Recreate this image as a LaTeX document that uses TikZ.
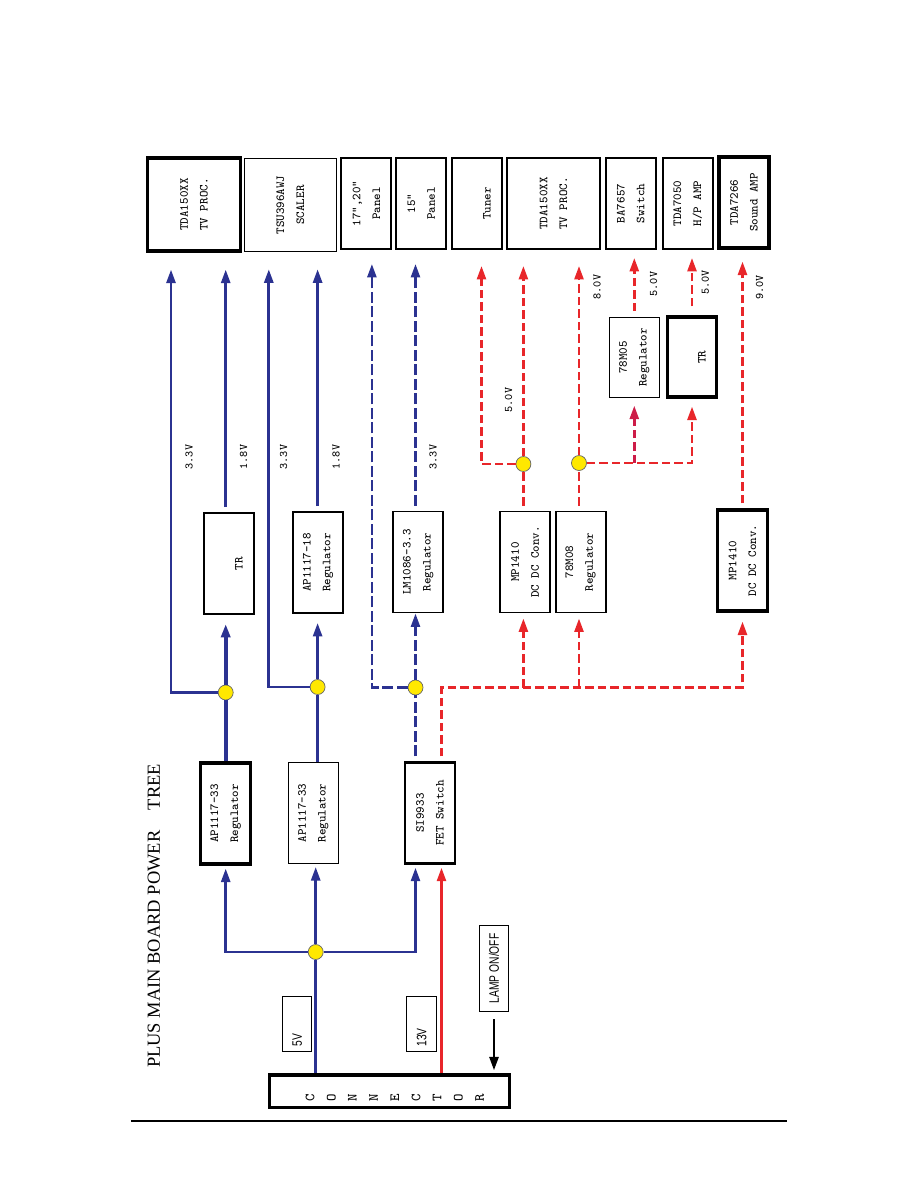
\documentclass[tikz,border=0pt]{standalone}
\usepackage{fontspec}
\usepackage{graphicx}
\usepackage{xcolor}
\usepackage{tikz}
\usetikzlibrary{arrows.meta}

\newfontfamily\titlefont{Liberation Serif}
\newfontfamily\narrowfont[FakeStretch=0.75]{Liberation Sans}
\definecolor{pwrblue}{RGB}{43,50,145}
\definecolor{pwrred}{RGB}{232,38,42}
\definecolor{pwrcrimson}{RGB}{205,28,72}
\definecolor{dotyellow}{RGB}{255,232,0}
\newcommand{\vchar}[1]{\makebox[0.424cm]{\rotatebox{90}{#1}}}

\begin{document}
\begin{tikzpicture}[x=0.02cm, y=-0.02cm,
    blockbox/.style={draw, rotate=90, align=center, inner sep=2pt, font=\ttfamily\fontsize{7}{11.3}\selectfont},
    thinbox/.style={blockbox, line width=0.6pt},
    midbox/.style={blockbox, line width=1.1pt},
    thickbox/.style={blockbox, line width=1.8pt},
    toprow/.style={minimum width=1.82cm, minimum height=1.0cm},
    midrow/.style={minimum width=2.02cm, minimum height=1.0cm},
    tag/.style={draw, rotate=90, line width=0.6pt, font=\narrowfont\fontsize{7.8}{9}\selectfont},
    vlabel/.style={rotate=90, inner sep=1pt, font=\ttfamily\fontsize{6.6}{8}\selectfont},
    junc/.style={circle, fill=dotyellow, draw=black!60, line width=0.4pt, minimum size=0.3cm, inner sep=0pt},
    powarrow/.style={-{Triangle[length=0.27cm, width=0.18cm]}},
    bline/.style={draw=pwrblue, line width=1.5pt},
    bthick/.style={draw=pwrblue, line width=2.1pt},
    bdash/.style={draw=pwrblue, line width=1.5pt, dash pattern=on 0.22cm off 0.07cm},
    rline/.style={draw=pwrred, line width=1.5pt},
    rdash/.style={draw=pwrred, line width=1.5pt, dash pattern=on 0.17cm off 0.08cm}]
  \useasboundingbox (0,0) rectangle (918,1188);

  % Title
  \node[rotate=90, font=\titlefont\fontsize{10.5}{12}\selectfont] (title) at (154,916) {PLUS MAIN BOARD POWER\hspace{9pt} TREE};

  % Loads
  \node[thickbox, minimum width=1.86cm, minimum height=1.85cm] (tvproc) at (194,204.5) {TDA150XX\\TV PROC.};
  \node[thinbox, minimum width=1.87cm, minimum height=1.83cm] (scaler) at (290.3,205) {TSU396AWJ\\SCALER};
  \node[midbox, toprow] (panelA) at (366.4,203.5) {17",20"\\Panel};
  \node[midbox, toprow] (panelB) at (421.2,203.5) {15"\\Panel};
  \node[midbox, toprow] (tuner) at (477,203.5) {\phantom{T}\\Tuner};
  \node[midbox, minimum width=1.82cm, minimum height=1.85cm] (tvproc2) at (553.5,203.5) {TDA150XX\\TV PROC.};
  \node[midbox, toprow] (switch) at (630.7,203.5) {BA7657\\Switch};
  \node[midbox, toprow] (hpamp) at (687.8,203.5) {TDA7050\\H/P AMP};
  \node[thickbox, toprow] (soundamp) at (744,202.5) {TDA7266\\Sound AMP};

  % Second stage
  \node[midbox, midrow] (tra) at (229,563.5) {\phantom{T}\\TR};
  \node[midbox, midrow] (reg18) at (318,562.5) {AP1117–18\\Regulator};
  \node[midbox, midrow] (ldo) at (418.2,562) {LM1086–3.3\\Regulator};
  \node[midbox, midrow] (dcdc) at (525.1,562) {MP1410\\DC DC Conv.};
  \node[midbox, midrow] (reg8) at (580.6,562) {78M08\\Regulator};
  \node[thickbox, midrow] (dcdcb) at (742.5,560.5) {MP1410\\DC DC Conv.};
  \node[thinbox, minimum width=1.59cm, minimum height=1.0cm] (reg5) at (634.3,357.4) {78M05\\Regulator};
  \node[thickbox, minimum width=1.6cm, minimum height=0.99cm] (trb) at (692,357) {\phantom{T}\\TR};

  % First stage
  \node[thickbox, midrow] (reg33a) at (225.7,813.5) {AP1117–33\\Regulator};
  \node[thinbox, midrow] (reg33b) at (313.3,813) {AP1117–33\\Regulator};
  \node[midbox, midrow, line width=1.4pt] (fet) at (430,813) {SI9933\\FET Switch};

  % Connector and inputs
  \node[draw, line width=1.8pt, minimum width=4.8cm, minimum height=0.65cm, inner sep=0pt, font=\ttfamily\fontsize{8}{9}\selectfont] (conn) at (389.3,1091.2)
    {\hspace*{0.22cm}\rule{0pt}{0.4cm}\vchar{C}\vchar{O}\vchar{N}\vchar{N}\vchar{E}\vchar{C}\vchar{T}\vchar{O}\vchar{R}};
  \node[tag, minimum width=1.11cm, minimum height=0.58cm, inner xsep=0.1cm, text width=0.91cm, align=left] (lbl5) at (297.2,1023.9) {5V};
  \node[tag, minimum width=1.11cm, minimum height=0.6cm, inner xsep=0.1cm, text width=0.91cm, align=left] (lbl13) at (421.7,1023.9) {13V};
  \node[tag, minimum width=1.73cm, minimum height=0.59cm] (lamp) at (494,968.3) {LAMP ON/OFF};

  % Junctions
  \node[junc] (ja) at (225.7,692.5) {};
  \node[junc] (jb) at (317.6,687) {};
  \node[junc] (jc) at (415.5,687.5) {};
  \node[junc] (jd) at (523.4,464) {};
  \node[junc] (je) at (579,463) {};
  \node[junc] (jf) at (315.7,952) {};
  \coordinate (fetin) at ([xshift=0.23cm]fet.west);
  \coordinate (fetout) at ([xshift=0.23cm]fet.east);

  % 5V rail
  \draw[bline] (jf |- conn.north) -- (jf);
  \draw[bline, powarrow, shorten >=0.06cm] (jf) -- (jf |- reg33b.west);
  \draw[bline, powarrow, shorten >=0.06cm] (jf) -| (reg33a.west);
  \draw[bline, powarrow, shorten >=0.06cm] (jf) -| (jc |- fet.west);

  % 13V rail
  \draw[rline, powarrow, shorten >=0.06cm] (fetin |- conn.north) -- (fetin);
  \draw[line width=1.5pt, powarrow, shorten <=0.14cm, shorten >=0.06cm] (lamp.west) -- (lamp.west |- conn.north);

  % 3.3V branches
  \draw[bthick] (reg33a.east) -- (ja);
  \draw[bthick, powarrow, shorten >=0.18cm] (ja) -- (ja |- tra.west);
  \draw[bline, powarrow, shorten >=0.34cm] (ja) -| ([xshift=-0.46cm]tvproc.west);
  \draw[bline, powarrow, shorten <=0.1cm, shorten >=0.34cm] (ja |- tra.east) -- (ja |- tvproc.west);
  \draw[bline] (jb |- reg33b.east) -- (jb);
  \draw[bline, powarrow, shorten >=0.18cm] (jb) -- (jb |- reg18.west);
  \draw[bline, powarrow, shorten >=0.34cm] (jb) -| ([xshift=-0.43cm]scaler.west);
  \draw[bline, powarrow, shorten <=0.1cm, shorten >=0.34cm] (jb |- reg18.east) -- (jb |- scaler.west);

  % Switched 5V
  \draw[bdash, shorten <=0.1cm] (jc |- fet.east) -- (jc);
  \draw[bdash, powarrow] (jc) -- (jc |- ldo.west);
  \draw[bdash, powarrow, shorten >=0.28cm] (jc) -| ([xshift=0.11cm]panelA.west);
  \draw[bdash, powarrow, shorten <=0.1cm, shorten >=0.28cm] (jc |- ldo.east) -- (jc |- panelB.west);

  % Switched 13V
  \draw[rdash, powarrow, shorten <=0.1cm, shorten >=0.18cm] (fetout) -- (fetout |- jc) -| (dcdcb.west);
  \draw[rdash, powarrow, shorten >=0.1cm] (jd |- jc) -- (jd |- dcdc.west);
  \draw[rdash, powarrow, shorten >=0.1cm] (je |- jc) -- (je |- reg8.west);
  \draw[rdash, shorten <=0.1cm] (jd |- dcdc.east) -- (jd);
  \draw[rdash, powarrow, shorten >=0.32cm] (jd) -- (jd |- tvproc2.west);
  \draw[rdash, powarrow, shorten >=0.32cm] (jd) -| ([xshift=0.09cm]tuner.west);
  \draw[rdash, shorten <=0.1cm] (je |- reg8.east) -- (je);
  \draw[rdash, powarrow, shorten >=0.32cm] (je) -- (je |- tvproc2.west);
  \draw[rdash, powarrow, shorten >=0.16cm] (je) -| (trb.west);
  \draw[rdash, draw=pwrcrimson, powarrow, shorten >=0.16cm] (reg5.west |- je) -- (reg5.west);
  \draw[rdash, powarrow, shorten <=0.12cm, shorten >=0.16cm] (reg5.east) -- (reg5.east |- switch.west);
  \draw[rdash, powarrow, shorten <=0.18cm, shorten >=0.16cm] (trb.east) -- (trb.east |- hpamp.west);
  \draw[rdash, powarrow, shorten <=0.1cm, shorten >=0.24cm] (dcdcb.east) -- (dcdcb.east |- soundamp.west);

  % Voltages
  \node[vlabel] (v33a) at (189,457) {3.3V};
  \node[vlabel] (v18a) at (243.5,457) {1.8V};
  \node[vlabel] (v33b) at (283.5,457) {3.3V};
  \node[vlabel] (v18b) at (336,457) {1.8V};
  \node[vlabel] (v33c) at (433,457) {3.3V};
  \node[vlabel] (v50a) at (508.5,400) {5.0V};
  \node[vlabel] (v80) at (597,287) {8.0V};
  \node[vlabel] (v50b) at (653.5,284) {5.0V};
  \node[vlabel] (v50c) at (705.3,282.5) {5.0V};
  \node[vlabel] (v90) at (759.5,287.5) {9.0V};

  % Page rule
  \draw[line width=0.9pt] (130.8,1120.7) -- (786.5,1120.7);
\end{tikzpicture}
\end{document}
